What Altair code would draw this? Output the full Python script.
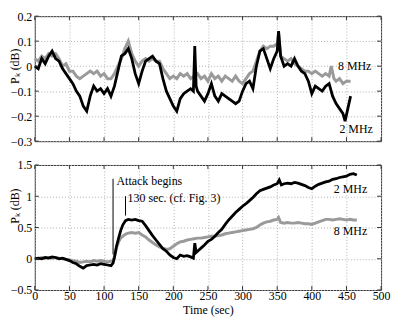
import altair as alt
import pandas as pd

FONT = "Liberation Serif"

# ---------------- data ----------------
x_ticks = [0, 50, 100, 150, 200, 250, 300, 350, 400, 450, 500]
top_y_ticks = [-0.3, -0.2, -0.1, 0, 0.1, 0.2]
bot_y_ticks = [-0.5, 0, 0.5, 1, 1.5]

top2_t = [0,5,10,15,20,25,30,35,40,45,50,55,60,65,70,75,80,85,90,95,100,105,110,115,120,125,130,135,140,145,
          150,155,160,165,170,175,180,185,190,195,200,205,210,215,220,225,229,231,233,
          235,240,245,250,255,260,265,270,275,280,285,290,295,300,305,310,315,320,325,330,335,340,345,350,352,
          355,360,365,370,375,380,385,390,395,400,405,410,415,420,425,430,435,440,445,448,452,456]
top2_v = [0.00,-0.01,0.03,0.01,0.04,0.06,0.03,0.02,-0.01,-0.03,
          -0.05,-0.07,-0.10,-0.12,-0.16,-0.18,-0.12,-0.08,-0.10,-0.09,
          -0.11,-0.09,-0.12,-0.08,-0.02,0.04,0.05,0.07,0.03,-0.03,
          -0.07,-0.02,0.02,0.03,0.04,0.02,0.01,-0.05,-0.10,-0.13,
          -0.16,-0.18,-0.13,-0.11,-0.10,-0.09,-0.10,0.08,-0.08,
          -0.10,-0.12,-0.14,-0.11,-0.07,-0.12,-0.14,-0.11,-0.12,-0.13,
          -0.14,-0.15,-0.14,-0.10,-0.07,-0.06,-0.09,0.00,0.06,0.07,
          0.03,-0.01,0.03,0.06,0.14,
          0.04,0.00,0.01,0.00,0.03,0.00,-0.02,-0.03,-0.06,-0.11,
          -0.08,-0.09,-0.10,-0.08,-0.07,-0.12,-0.15,-0.17,-0.19,-0.22,-0.17,-0.12]

top8_t = [0,5,10,15,20,25,30,35,40,45,50,55,60,65,70,75,80,85,90,95,100,105,110,115,120,125,130,135,140,145,
          150,155,160,165,170,175,180,185,190,195,200,205,210,215,220,225,230,235,240,245,250,255,260,265,270,
          275,280,285,290,295,300,305,310,315,320,325,330,335,340,345,350,352,
          355,360,365,370,375,380,385,390,395,400,405,410,415,420,425,428,432,435,440,445,450,456]
top8_v = [0.03,0.02,0.04,0.03,0.05,0.04,0.05,0.03,0.00,0.01,
          -0.02,-0.02,-0.04,-0.05,-0.04,-0.03,-0.02,-0.03,-0.02,-0.04,
          -0.03,-0.05,-0.05,-0.03,0.00,0.03,0.07,0.10,0.05,0.02,
          0.00,0.02,0.03,0.02,0.03,0.02,0.02,-0.01,-0.03,-0.05,
          -0.04,-0.05,-0.03,-0.04,-0.03,-0.05,-0.04,-0.03,-0.05,-0.04,
          -0.06,-0.03,-0.05,-0.04,-0.06,-0.04,-0.05,-0.06,-0.04,-0.06,
          -0.07,-0.05,-0.03,-0.02,0.02,0.06,0.08,0.07,0.08,0.08,
          0.09,0.13,
          0.04,0.03,0.02,0.03,0.01,0.00,-0.01,-0.02,-0.02,-0.03,-0.02,-0.03,-0.04,-0.03,-0.04,
          0.00,-0.05,-0.06,-0.05,-0.07,-0.06,-0.06]

bot2_t = [0,5,10,15,20,25,30,35,40,45,50,55,60,65,70,75,80,85,90,95,100,105,110,
          113,115,118,121,124,127,131,135,
          140,145,150,155,160,165,170,175,180,185,190,195,200,205,210,215,220,225,
          229,231,233,
          235,240,245,250,255,260,265,270,275,280,285,290,295,300,305,310,315,320,325,330,335,340,345,350,
          353,356,
          360,365,370,375,380,385,390,395,400,405,410,415,420,425,430,435,440,445,450,455,460,465]
bot2_v = [0.00,0.01,0.00,0.02,0.01,0.03,0.02,0.00,0.01,-0.01,
          -0.03,-0.06,-0.08,-0.12,-0.15,-0.11,-0.10,-0.09,-0.10,-0.08,
          -0.09,-0.10,-0.11,
          -0.07,0.02,0.20,0.33,0.45,0.54,0.61,0.63,
          0.62,0.63,0.61,0.60,0.53,0.45,0.37,0.30,0.23,0.16,
          0.12,0.06,0.02,0.00,0.06,0.04,0.05,0.03,
          0.01,0.25,0.10,
          0.12,0.17,0.22,0.28,0.31,0.36,0.42,0.47,0.55,0.62,
          0.68,0.74,0.79,0.84,0.88,0.93,0.98,1.04,1.09,1.11,
          1.13,1.15,1.18,1.20,
          1.26,1.18,
          1.20,1.21,1.20,1.22,1.21,1.19,1.17,1.14,1.12,1.16,
          1.19,1.21,1.23,1.24,1.27,1.28,1.30,1.31,1.32,1.35,1.36,1.34]

bot8_t = [0,5,10,15,20,25,30,35,40,45,50,55,60,65,70,75,80,85,90,95,100,105,110,
          113,115,118,121,124,128,132,
          135,140,145,150,155,160,165,170,175,180,185,190,195,200,205,210,215,220,225,230,
          235,240,245,250,255,260,265,270,275,280,285,290,295,300,305,310,315,320,325,330,335,340,345,350,
          352,
          355,360,365,370,375,380,385,390,395,400,405,410,415,420,425,430,435,440,445,450,455,460,465]
bot8_v = [0.01,0.00,0.02,0.01,0.02,0.01,0.02,0.01,0.00,-0.01,
          -0.02,-0.03,-0.04,-0.06,-0.05,-0.04,-0.05,-0.03,-0.04,-0.03,
          -0.04,-0.05,-0.04,
          -0.03,0.03,0.18,0.27,0.33,0.37,0.40,
          0.41,0.42,0.41,0.42,0.38,0.35,0.30,0.26,0.22,0.19,
          0.17,0.15,0.16,0.20,0.24,0.27,0.28,0.30,0.31,0.32,
          0.33,0.33,0.34,0.35,0.36,0.36,0.37,0.38,0.40,0.41,
          0.42,0.43,0.44,0.45,0.46,0.47,0.48,0.50,0.54,0.57,
          0.59,0.60,0.62,0.63,
          0.66,
          0.58,0.57,0.58,0.57,0.57,0.58,0.57,0.56,0.56,0.55,
          0.57,0.59,0.61,0.63,0.63,0.62,0.63,0.64,0.63,0.62,0.63,0.62,0.62]

# series labels: text, x position (right edge, sec), y value
top_labels = pd.DataFrame({"t": [486, 488], "v": [0.0, -0.25], "txt": ["8 MHz", "2 MHz"]})
bot_labels = pd.DataFrame({"t": [480, 480], "v": [1.11, 0.45], "txt": ["2 MHz", "8 MHz"]})

# annotation: marker lines and captions
ann_lines = pd.DataFrame({"t": [113, 131], "v": [0.07, 0.69], "v2": [1.28, 1.0]})
ann_text = pd.DataFrame({"t": [118, 134], "v": [1.24, 0.97],
                         "txt": ["Attack begins", "130 sec. (cf. Fig. 3)"]})

W, H = 349, 126
XSCALE = alt.Scale(domain=[0, 500], nice=False)


def panel(s2, s8, ydom, yticks, labels, show_x, title_y, extra=None):
    ysc = alt.Scale(domain=ydom, nice=False)
    xax = alt.Axis(values=x_ticks, labels=show_x, ticks=False, domain=False,
                   grid=True, title="Time (sec)" if show_x else None,
                   labelPadding=1, titlePadding=3, labelFont=FONT, labelFontSize=12,
                   labelOverlap=False, labelFlush=False)
    yax = alt.Axis(values=yticks, format="~g", ticks=False, domain=False, grid=True,
                   title="Pₖ (dB)", titleX=-13, titleY=title_y, labelPadding=3,
                   labelFont=FONT, labelFontSize=12, labelOverlap=False)

    def X():
        return alt.X("t:Q", scale=XSCALE, axis=xax)

    def Y(f="v:Q"):
        return alt.Y(f, scale=ysc, axis=yax)

    d2 = pd.DataFrame({"t": s2[0], "v": s2[1]})
    d8 = pd.DataFrame({"t": s8[0], "v": s8[1]})
    g = alt.Chart(d8).mark_line(color="#9a9a9a", strokeWidth=3).encode(x=X(), y=Y())
    b = alt.Chart(d2).mark_line(color="#000000", strokeWidth=2.8).encode(x=X(), y=Y())
    lab = alt.Chart(labels).mark_text(font=FONT, fontSize=12, align="right",
                                      baseline="middle", color="black").encode(
        x=X(), y=Y(), text="txt:N")
    xt = pd.DataFrame({"t": x_ticks})
    yt = pd.DataFrame({"v": yticks})
    tk = dict(color="#333", strokeWidth=1)
    t1 = alt.Chart(xt).mark_rule(**tk).encode(x=X(), y=alt.value(0), y2=alt.value(4))
    t2 = alt.Chart(xt).mark_rule(**tk).encode(x=X(), y=alt.value(H), y2=alt.value(H - 4))
    t3 = alt.Chart(yt).mark_rule(**tk).encode(y=Y(), x=alt.value(0), x2=alt.value(4))
    t4 = alt.Chart(yt).mark_rule(**tk).encode(y=Y(), x=alt.value(W), x2=alt.value(W - 4))
    layers = [g, b, lab, t1, t2, t3, t4]
    if extra is not None:
        layers += extra(X, Y)
    return alt.layer(*layers).properties(width=W, height=H)


def annotations(X, Y):
    r = alt.Chart(ann_lines).mark_rule(color="black", strokeWidth=1).encode(
        x=X(), y=Y(), y2="v2:Q")
    t = alt.Chart(ann_text).mark_text(font=FONT, fontSize=12, align="left",
                                      baseline="middle", color="black").encode(
        x=X(), y=Y(), text="txt:N")
    return [r, t]


top = panel((top2_t, top2_v), (top8_t, top8_v), [-0.3, 0.2], top_y_ticks, top_labels, False, 50)
bot = panel((bot2_t, bot2_v), (bot8_t, bot8_v), [-0.5, 1.5], bot_y_ticks, bot_labels, True, 41,
            extra=annotations)

chart = alt.vconcat(top, bot, spacing=10).properties(
    padding={"left": 0, "top": 0, "right": 0, "bottom": 0}
).configure_view(stroke="#333", strokeWidth=1).configure_axis(
    labelFont=FONT, labelFontSize=12, labelColor="black",
    titleFont=FONT, titleFontSize=12, titleFontWeight="normal", titleColor="black",
    gridColor="#b0b0b0", gridDash=[1, 2], gridWidth=1
)

chart.save("out.html", embed_options={"renderer": "svg", "actions": False})
